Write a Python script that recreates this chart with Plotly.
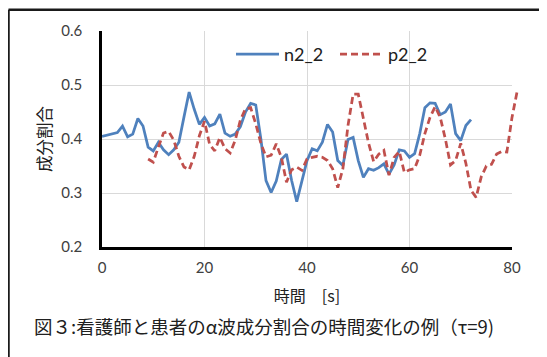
import plotly.graph_objects as go

# ---- data ----
t_n = list(range(0, 73))
n2_2 = [0.405, 0.407, 0.409, 0.412, 0.424, 0.404, 0.409, 0.438, 0.424, 0.385,
        0.378, 0.394, 0.380, 0.371, 0.380, 0.394, 0.441, 0.487, 0.455, 0.427,
        0.440, 0.424, 0.428, 0.446, 0.411, 0.405, 0.409, 0.423, 0.450, 0.466,
        0.463, 0.400, 0.323, 0.301, 0.322, 0.362, 0.372, 0.323, 0.284, 0.323,
        0.360, 0.382, 0.378, 0.394, 0.427, 0.413, 0.360, 0.351, 0.399, 0.403,
        0.360, 0.329, 0.345, 0.342, 0.347, 0.354, 0.335, 0.352, 0.380, 0.378,
        0.366, 0.373, 0.410, 0.458, 0.467, 0.466, 0.445, 0.450, 0.465, 0.410,
        0.397, 0.425, 0.436]
t_p = list(range(9, 82))
p2_2 = [0.363, 0.357, 0.385, 0.411, 0.414, 0.398, 0.368, 0.348, 0.343, 0.368,
        0.406, 0.433, 0.390, 0.378, 0.403, 0.382, 0.374, 0.398, 0.435, 0.456,
        0.458, 0.428, 0.392, 0.367, 0.370, 0.391, 0.366, 0.320, 0.343, 0.348,
        0.342, 0.363, 0.366, 0.368, 0.366, 0.360, 0.345, 0.310, 0.345, 0.425,
        0.483, 0.483, 0.438, 0.393, 0.358, 0.372, 0.379, 0.333, 0.366, 0.377,
        0.338, 0.343, 0.345, 0.370, 0.410, 0.440, 0.460, 0.440, 0.400, 0.352,
        0.360, 0.392, 0.355, 0.305, 0.292, 0.330, 0.350, 0.353, 0.372, 0.377,
        0.376, 0.440, 0.488]
x_ticks = [0, 20, 40, 60, 80]
y_ticks = [0.2, 0.3, 0.4, 0.5, 0.6]
x_range = [0, 80]
y_range = [0.2, 0.6]
caption = "図３:看護師と患者のα波成分割合の時間変化の例（τ=9)"

# page body has an 8px margin, so the figure is drawn 8px smaller
W, H = 539, 349
L, R, T, B = 94, 28, 23, 110
pw, ph = W - L - R, H - T - B          # drawing area (slightly wider than the grid)
grid_w = 410                            # width of the 0..80 grid box
d = grid_w / pw

fig = go.Figure()
fig.add_trace(go.Scatter(x=t_n, y=n2_2, mode="lines", name="n2_2",
                         line=dict(color="#4F81BD", width=2.75)))
# second series runs just past 80 s, so it is drawn on an overlay axis with the
# same scale whose clip area extends a few pixels beyond the grid box
fig.add_trace(go.Scatter(x=t_p, y=p2_2, mode="lines", name="p2_2",
                         xaxis="x2", yaxis="y2",
                         line=dict(color="#C0504D", width=2.75, dash="7px,4px")))

tickfont = dict(family="Lato, Open Sans, sans-serif", size=15, color="#404040")
fig.update_layout(
    width=W, height=H,
    margin=dict(l=L, r=R, t=T, b=B, autoexpand=False),
    paper_bgcolor="white", plot_bgcolor="rgba(0,0,0,0)",
    showlegend=True,
    legend=dict(orientation="h", x=(223 - L) / pw, y=0.977, xanchor="left", yanchor="top",
                font=dict(family="Lato, Open Sans, sans-serif", size=18, color="#202020"),
                itemwidth=43, entrywidth=46, bgcolor="rgba(0,0,0,0)"),
    xaxis=dict(domain=[0, d], range=x_range, tickvals=x_ticks, showgrid=True,
               gridcolor="#d9d9d9", gridwidth=1.3, zeroline=False, showline=True,
               linecolor="black", linewidth=2.5, ticks="outside", ticklen=5,
               tickcolor="rgba(0,0,0,0)", tickfont=tickfont,
               title=dict(text="時間　[s]", standoff=17,
                          font=dict(family="Noto Sans CJK JP", size=16, color="#202020"))),
    yaxis=dict(range=y_range, tickvals=y_ticks, tickformat=".1f", showgrid=True,
               gridcolor="#d9d9d9", gridwidth=1.3, zeroline=False, showline=True,
               linecolor="black", linewidth=2.5, ticks="outside", ticklen=14,
               tickcolor="rgba(0,0,0,0)", tickfont=tickfont,
               title=dict(text="成分割合", standoff=6,
                          font=dict(family="Noto Sans CJK JP", size=16.5, color="#202020"))),
    xaxis2=dict(domain=[0, 1], range=[x_range[0], x_range[1] / d], anchor="y2",
                visible=False, showgrid=False, zeroline=False),
    yaxis2=dict(domain=[0, 1], range=y_range, anchor="x2",
                visible=False, showgrid=False, zeroline=False),
    annotations=[dict(text=caption, xref="paper", yref="paper",
                      x=(256 - L) / pw, y=-(318 - (T + ph)) / ph,
                      xanchor="center", yanchor="middle", showarrow=False,
                      font=dict(family="Noto Sans CJK JP", size=18.5, color="#202020"))],
    shapes=[
        dict(type="line", xref="paper", yref="paper",
             x0=(0.5 - L) / pw, x1=(W + 10 - L) / pw,
             y0=1 + (T - 1.7) / ph, y1=1 + (T - 1.7) / ph,
             line=dict(color="#1a1a1a", width=2.5)),
        dict(type="line", xref="paper", yref="paper",
             x0=(0.5 - L) / pw, x1=(0.5 - L) / pw,
             y0=1 + (T - 1.7) / ph, y1=-(H + 10 - T - ph) / ph,
             line=dict(color="#1a1a1a", width=2.5)),
    ],
)
fig.write_html("out.html")
